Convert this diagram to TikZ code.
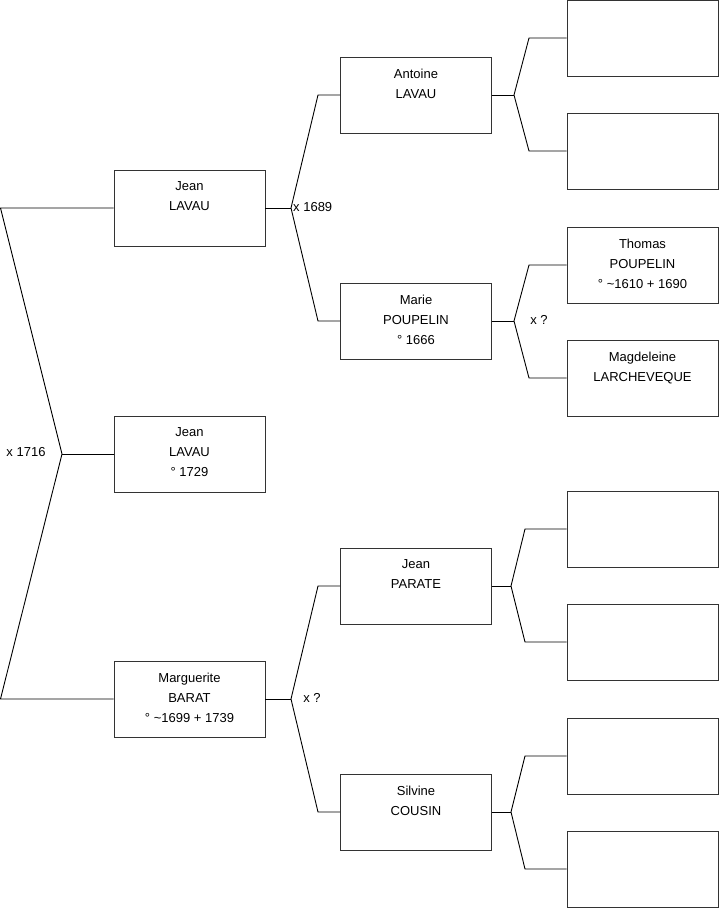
\documentclass[tikz,border=0pt]{standalone}
\usepackage{fontspec}
\setmainfont{Liberation Sans}
\begin{document}
\begin{tikzpicture}[x=1pt,y=-1pt,
  person/.style={draw=black!80,line width=0.9pt,minimum width=151pt,minimum height=76pt,inner sep=0pt,
    align=center,text depth=3pt,font=\fontsize{13}{20}\selectfont},
  link/.style={draw=black,line width=0.9pt},
  lbl/.style={font=\fontsize{13}{14}\selectfont,inner sep=0pt}]
\useasboundingbox (0,0) rectangle (719,908);
% column 1
\node[person] (j1) at (189.5,208) {Jean\\LAVAU\\~};
\node[person] (j2) at (189.5,454) {Jean\\LAVAU\\° 1729};
\node[person] (m1) at (189.5,699) {Marguerite\\BARAT\\° \textasciitilde1699 + 1739};
% column 2
\node[person] (ant) at (416,95) {Antoine\\LAVAU\\~};
\node[person] (mar) at (416,321) {Marie\\POUPELIN\\° 1666};
\node[person] (par) at (416,586) {Jean\\PARATE\\~};
\node[person] (cou) at (416,812) {Silvine\\COUSIN\\~};
% column 3
\node[person] (c1) at (642.5,38) {};
\node[person] (c2) at (642.5,151) {};
\node[person] (tho) at (642.5,265) {Thomas\\POUPELIN\\° \textasciitilde1610 + 1690};
\node[person] (mag) at (642.5,378) {Magdeleine\\LARCHEVEQUE\\~};
\node[person] (c5) at (642.5,529) {};
\node[person] (c6) at (642.5,642) {};
\node[person] (c7) at (642.5,756) {};
\node[person] (c8) at (642.5,869) {};
% coordinates
\coordinate (L1) at (0.5,208);
\coordinate (A0) at (62,454);
\coordinate (L2) at (0.5,699);
\coordinate (F1) at (291,208);
\coordinate (F1a) at (318,95);
\coordinate (F1b) at (318,321);
\coordinate (F2) at (291,699);
\coordinate (F2a) at (318,586);
\coordinate (F2b) at (318,812);
\coordinate (G1) at (514,95);
\coordinate (G1a) at (529,38);
\coordinate (G1b) at (529,151);
\coordinate (G2) at (514,321);
\coordinate (G2a) at (529,265);
\coordinate (G2b) at (529,378);
\coordinate (G3) at (511,586);
\coordinate (G3a) at (525,529);
\coordinate (G3b) at (525,642);
\coordinate (G4) at (511,812);
\coordinate (G4a) at (525,756);
\coordinate (G4b) at (525,869);
% connectors
\draw[link] (j1.west) -- (L1) -- (A0) -- (L2) -- (m1.west);
\draw[link] (A0) -- (j2.west);
\draw[link] (j1.east) -- (F1);
\draw[link] (ant.west) -- (F1a) -- (F1) -- (F1b) -- (mar.west);
\draw[link] (m1.east) -- (F2);
\draw[link] (par.west) -- (F2a) -- (F2) -- (F2b) -- (cou.west);
\draw[link] (ant.east) -- (G1);
\draw[link] (c1.west) -- (G1a) -- (G1) -- (G1b) -- (c2.west);
\draw[link] (mar.east) -- (G2);
\draw[link] (tho.west) -- (G2a) -- (G2) -- (G2b) -- (mag.west);
\draw[link] (par.east) -- (G3);
\draw[link] (c5.west) -- (G3a) -- (G3) -- (G3b) -- (c6.west);
\draw[link] (cou.east) -- (G4);
\draw[link] (c7.west) -- (G4a) -- (G4) -- (G4b) -- (c8.west);
% labels
\node[lbl] (x1716) at (26,452) {x 1716};
\node[lbl,anchor=west] (x1689) at (293,207) {x 1689};
\node[lbl] (xq1) at (539,320) {x ?};
\node[lbl] (xq2) at (312,698) {x ?};
\end{tikzpicture}
\end{document}
